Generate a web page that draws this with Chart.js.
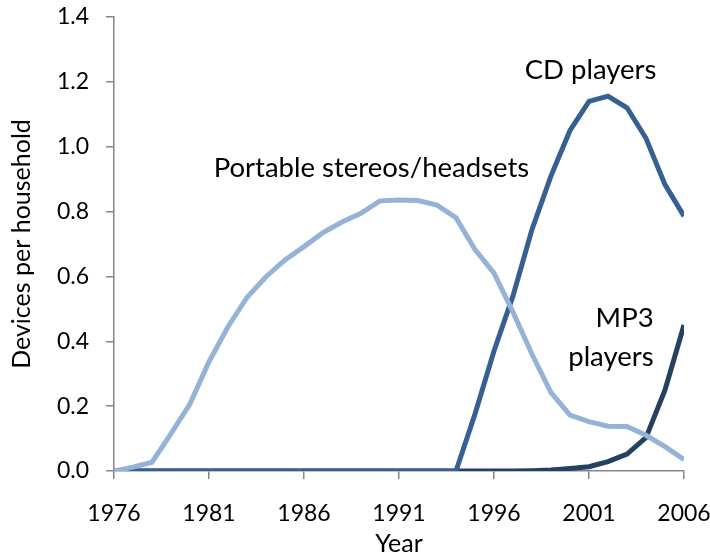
<!DOCTYPE html>
<html>
<head>
<meta charset="utf-8">
<script src="https://cdn.jsdelivr.net/npm/chart.js@4.4.1/dist/chart.umd.min.js"></script>
<style>
    html, body { margin: 0; padding: 0; background: #fff; }
    #wrap { width: 710px; height: 559px; }
</style>
</head>
<body>
<div id="wrap"><canvas id="devicesChart"></canvas></div>
<script>
// Data
const years = [1976, 1977, 1978, 1979, 1980, 1981, 1982, 1983, 1984, 1985, 1986,
    1987, 1988, 1989, 1990, 1991, 1992, 1993, 1994, 1995, 1996,
    1997, 1998, 1999, 2000, 2001, 2002, 2003, 2004, 2005, 2006];

const portableStereos = [0.0, 0.012, 0.027, 0.115, 0.207, 0.337, 0.445, 0.535, 0.599, 0.651, 0.692,
    0.735, 0.768, 0.795, 0.833, 0.836, 0.834, 0.82, 0.781, 0.683, 0.61,
    0.49, 0.36, 0.242, 0.172, 0.152, 0.138, 0.137, 0.11, 0.075, 0.035];

const cdPlayers = [0, 0, 0, 0, 0, 0, 0, 0, 0, 0, 0,
    0, 0, 0, 0, 0, 0, 0, 0, 0.176, 0.37,
    0.54, 0.745, 0.91, 1.05, 1.14, 1.156, 1.12, 1.026, 0.883, 0.786];

const mp3Players = [0, 0, 0, 0, 0, 0, 0, 0, 0, 0, 0,
    0, 0, 0, 0, 0, 0, 0, 0, 0, 0,
    0, 0.001, 0.003, 0.008, 0.013, 0.029, 0.052, 0.103, 0.25, 0.45];

const yTicks = [0, 0.2, 0.4, 0.6, 0.8, 1.0, 1.2, 1.4];

// Text labels placed in data coordinates
const seriesLabels = [
    { text: 'Portable stereos/headsets', x: 1989.55, y: 0.934, align: 'center' },
    { text: 'CD players', x: 2001.08, y: 1.235, align: 'center' },
    { text: 'MP3', x: 2004.4, y: 0.472, align: 'right' },
    { text: 'players', x: 2004.4, y: 0.352, align: 'right' }
];

const FONT = 'Lato, "Open Sans", sans-serif';
const axisGray = '#868686';

const toPoints = (vals) => vals.map((v, i) => ({ x: years[i], y: v }));

const labelPlugin = {
    id: 'seriesLabels',
    afterDatasetsDraw(chart) {
        const { ctx, scales } = chart;
        ctx.save();
        ctx.fillStyle = '#000';
        ctx.font = '27.5px ' + FONT;
        ctx.textBaseline = 'middle';
        seriesLabels.forEach(l => {
            ctx.textAlign = l.align;
            ctx.fillText(l.text, scales.x.getPixelForValue(l.x), scales.y.getPixelForValue(l.y));
        });
        ctx.restore();
    }
};

const lineStyle = {
    borderWidth: 5,
    pointRadius: 0,
    tension: 0,
    fill: false
};

new Chart(document.getElementById('devicesChart'), {
    type: 'line',
    data: {
        datasets: [
            Object.assign({ label: 'Portable stereos/headsets', data: toPoints(portableStereos), borderColor: '#95b3d7' }, lineStyle),
            Object.assign({ label: 'CD players', data: toPoints(cdPlayers), borderColor: '#376092' }, lineStyle),
            Object.assign({ label: 'MP3 players', data: toPoints(mp3Players), borderColor: '#254061' }, lineStyle)
        ]
    },
    options: {
        responsive: true,
        maintainAspectRatio: false,
        animation: false,
        layout: {
            padding: { top: 0, right: 0, bottom: 0, left: 7 }
        },
        plugins: {
            legend: { display: false },
            tooltip: { enabled: false }
        },
        scales: {
            x: {
                type: 'linear',
                min: 1976,
                max: 2006,
                afterFit: function (axis) {
                    axis.height = 88;
                    axis.paddingRight = 26;
                },
                border: { display: true, color: axisGray, width: 1.5 },
                grid: { display: true, drawOnChartArea: false, drawTicks: true, tickLength: 8, color: axisGray, lineWidth: 1.5 },
                ticks: {
                    stepSize: 5,
                    color: '#000',
                    padding: 21,
                    maxRotation: 0,
                    font: { family: FONT, size: 23 },
                    callback: function (value) {
                        return String(value);
                    }
                },
                title: {
                    display: true,
                    text: 'Year',
                    color: '#000',
                    padding: { top: 0, bottom: 0 },
                    font: { family: FONT, size: 25 }
                }
            },
            y: {
                min: 0,
                max: 1.4,
                afterBuildTicks: function (axis) {
                    axis.ticks = yTicks.map(v => ({ value: v }));
                },
                afterFit: function (axis) {
                    axis.width = 107;
                    axis.paddingTop = 17;
                },
                border: { display: true, color: axisGray, width: 1.5 },
                grid: { display: true, drawOnChartArea: false, drawTicks: true, tickLength: 8, color: axisGray, lineWidth: 1.5 },
                ticks: {
                    color: '#000',
                    padding: 17,
                    font: { family: FONT, size: 23 },
                    callback: function (value) {
                        return value.toFixed(1);
                    }
                },
                title: {
                    display: true,
                    text: 'Devices per household',
                    color: '#000',
                    padding: { top: 0, bottom: 0 },
                    font: { family: FONT, size: 25 }
                }
            }
        }
    },
    plugins: [labelPlugin]
});
</script>
</body>
</html>
